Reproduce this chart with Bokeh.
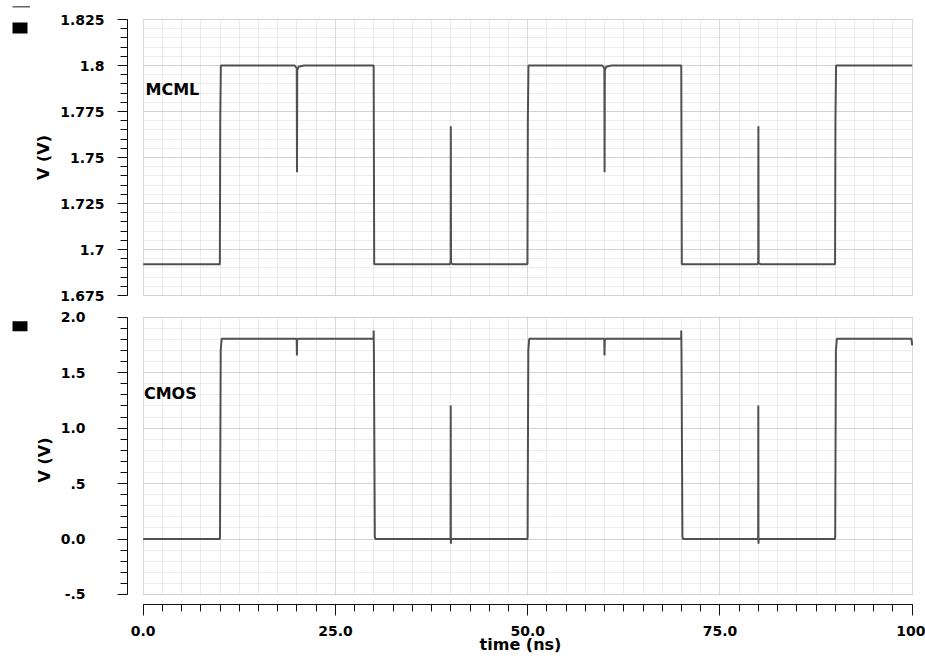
import numpy as np
from bokeh.plotting import figure
from bokeh.models import FixedTicker, Label, Range1d
from bokeh.layouts import column, row
from bokeh.embed import file_html
from bokeh.resources import INLINE

# ---------------- data ----------------
mcml_t = [0.0, 9.97, 10.02, 10.10, 19.70, 19.97, 20.00, 20.03, 20.20, 20.90,
          29.97, 30.04, 39.90, 39.98, 40.00, 40.03, 40.30,
          49.97, 50.02, 50.10, 59.70, 59.97, 60.00, 60.03, 60.20, 60.90,
          69.97, 70.04, 79.90, 79.98, 80.00, 80.03, 80.30,
          89.97, 90.02, 90.10, 100.0]
mcml_v = [1.692, 1.692, 1.770, 1.800, 1.800, 1.7985, 1.742, 1.7975, 1.7993, 1.800,
          1.800, 1.692, 1.692, 1.6935, 1.767, 1.6925, 1.692,
          1.692, 1.770, 1.800, 1.800, 1.7985, 1.742, 1.7975, 1.7993, 1.800,
          1.800, 1.692, 1.692, 1.6935, 1.767, 1.6925, 1.692,
          1.692, 1.770, 1.800, 1.800]

cmos_t = [0.0, 9.97, 9.99, 10.00, 10.08, 10.20, 19.96, 19.99, 20.02, 20.15,
          29.96, 29.97, 30.00, 30.12, 30.20, 39.97, 39.99, 40.01, 40.04,
          49.97, 49.99, 50.00, 50.08, 50.20, 59.96, 59.99, 60.02, 60.15,
          69.96, 69.97, 70.00, 70.12, 70.20, 79.97, 79.99, 80.01, 80.04,
          89.97, 89.99, 90.00, 90.08, 90.20, 99.90, 100.0]
cmos_v = [0.0, 0.0, 0.03, 0.25, 1.70, 1.805, 1.805, 1.655, 1.795, 1.805,
          1.805, 1.880, 1.70, 0.02, 0.0, 0.0, 1.204, -0.042, 0.0,
          0.0, 0.03, 0.25, 1.70, 1.805, 1.805, 1.655, 1.795, 1.805,
          1.805, 1.880, 1.70, 0.02, 0.0, 0.0, 1.204, -0.042, 0.0,
          0.0, 0.03, 0.25, 1.70, 1.805, 1.805, 1.745]

time_ticks = [0, 25, 50, 75, 100]
time_tick_labels = ["0.0", "25.0", "50.0", "75.0", "100"]
mcml_ticks = [1.675, 1.7, 1.725, 1.75, 1.775, 1.8, 1.825]
mcml_tick_labels = ["1.675", "1.7", "1.725", "1.75", "1.775", "1.8", "1.825"]
cmos_ticks = [-0.5, 0.0, 0.5, 1.0, 1.5, 2.0]
cmos_tick_labels = ["-.5", "0.0", ".5", "1.0", "1.5", "2.0"]

time_minor = np.round(np.arange(0, 100.001, 2.5), 3).tolist()
mcml_minor = np.round(np.arange(1.675, 1.82501, 0.005), 4).tolist()
cmos_minor = np.round(np.arange(-0.5, 2.0001, 0.1), 3).tolist()

# ---------------- style ----------------
FONT = "DejaVu Sans"
WAVE = "#505050"
GMAJ = "#b9b9b9"
GMIN = "#d8d8d8"
X_RANGE = (-2.04, 100.17)
SIDE_W = 30          # narrow strip on the far left holding the trace markers
TOP_H, BOT_H = 310, 361


def style(p, ylo, yhi, yticks, yminor, ylabels, label_standoff):
    p.outline_line_color = None
    p.background_fill_color = "white"
    p.border_fill_color = "white"
    # grids
    p.xgrid.ticker = FixedTicker(ticks=time_ticks, minor_ticks=time_minor)
    p.xgrid.bounds = (0, 100)
    p.xgrid.cross_bounds = (ylo, yhi)
    p.ygrid.ticker = FixedTicker(ticks=yticks, minor_ticks=yminor)
    p.ygrid.bounds = (ylo, yhi)
    p.ygrid.cross_bounds = (0, 100)
    for g in (p.xgrid, p.ygrid):
        g.grid_line_color = GMAJ
        g.grid_line_dash = "1 1"
        g.grid_line_width = 1
        g.minor_grid_line_color = GMIN
        g.minor_grid_line_dash = "1 1"
        g.minor_grid_line_width = 1
    p.xgrid.grid_line_color = "#c6c6c6"
    # y axis
    ax = p.yaxis[0]
    ax.ticker = FixedTicker(ticks=yticks, minor_ticks=yminor)
    ax.bounds = (ylo, yhi)
    ax.major_label_overrides = {v: s for v, s in zip(yticks, ylabels)}
    ax.axis_line_color = "#111111"
    ax.major_tick_line_color = "#111111"
    ax.minor_tick_line_color = "#111111"
    ax.major_tick_out = 10
    ax.major_tick_in = 0
    ax.minor_tick_out = 7
    ax.minor_tick_in = 0
    ax.major_label_text_font = FONT
    ax.major_label_text_font_style = "bold"
    ax.major_label_text_font_size = "14px"
    ax.major_label_text_color = "black"
    ax.major_label_standoff = label_standoff
    ax.axis_label = "V (V)"
    ax.axis_label_text_font = FONT
    ax.axis_label_text_font_style = "bold"
    ax.axis_label_text_font_size = "16px"
    ax.axis_label_text_color = "black"
    ax.axis_label_standoff = 4


def side_strip(h):
    s = figure(width=SIDE_W, height=h, output_backend="svg", toolbar_location=None,
               x_range=Range1d(0, SIDE_W), y_range=Range1d(h, 0),
               x_axis_location=None, y_axis_location=None,
               min_border_left=0, min_border_right=0,
               min_border_top=0, min_border_bottom=0)
    s.grid.visible = False
    s.outline_line_color = None
    s.background_fill_color = "white"
    s.border_fill_color = "white"
    return s


# ---------------- top panel (MCML) ----------------
top_pad = 2 / 1840.0
p1 = figure(width=925 - SIDE_W, height=TOP_H, output_backend="svg", toolbar_location=None,
            x_range=Range1d(*X_RANGE),
            y_range=Range1d(1.675 - top_pad, 1.825 + top_pad),
            x_axis_location=None,
            min_border_left=127 - SIDE_W, min_border_right=12,
            min_border_top=17, min_border_bottom=13)
style(p1, 1.675, 1.825, mcml_ticks, mcml_minor, mcml_tick_labels, 13)
p1.line(mcml_t, mcml_v, line_color=WAVE, line_width=2)
p1.add_layout(Label(x=0.3, y=1.7871, text="MCML", text_baseline="middle",
                    text_font=FONT, text_font_style="bold", text_font_size="16px",
                    text_color="black"))

s1 = side_strip(TOP_H)
s1.segment(x0=12, y0=6.3, x1=31, y1=6.3, line_color="#666666", line_width=1.5)
s1.quad(left=12, right=27, top=22, bottom=33, fill_color="black", line_color=None)

# ---------------- bottom panel (CMOS) ----------------
ppv = 110.9
p2 = figure(width=925 - SIDE_W, height=BOT_H, output_backend="svg", toolbar_location=None,
            x_range=p1.x_range,
            y_range=Range1d(2.0 - 287.3 / ppv, 2.0 + 1.7 / ppv),
            min_border_left=127 - SIDE_W, min_border_right=12,
            min_border_top=5, min_border_bottom=67)
style(p2, -0.5, 2.0, cmos_ticks, cmos_minor, cmos_tick_labels, 32)
p2.line(cmos_t, cmos_v, line_color=WAVE, line_width=2)
p2.add_layout(Label(x=0.1, y=1.309, text="CMOS", text_baseline="middle",
                    text_font=FONT, text_font_style="bold", text_font_size="16px",
                    text_color="black"))

s2 = side_strip(BOT_H)
s2.quad(left=12, right=27, top=10.7, bottom=20.7, fill_color="black", line_color=None)

xa = p2.xaxis[0]
xa.ticker = FixedTicker(ticks=time_ticks, minor_ticks=time_minor)
xa.bounds = (0, 100)
xa.major_label_overrides = {t: s for t, s in zip(time_ticks, time_tick_labels)}
xa.axis_line_color = "#111111"
xa.major_tick_line_color = "#111111"
xa.minor_tick_line_color = "#111111"
xa.major_tick_out = 11
xa.major_tick_in = 0
xa.minor_tick_out = 7
xa.minor_tick_in = 0
xa.major_label_text_font = FONT
xa.major_label_text_font_style = "bold"
xa.major_label_text_font_size = "14px"
xa.major_label_text_color = "black"
xa.major_label_standoff = 10
xa.axis_label = "time (ns)"
xa.axis_label_text_font = FONT
xa.axis_label_text_font_style = "bold"
xa.axis_label_text_font_size = "16px"
xa.axis_label_text_color = "black"
xa.axis_label_standoff = -4

layout = row(column(s1, s2, spacing=0), column(p1, p2, spacing=0), spacing=0)
open("out.html", "w").write(file_html(layout, INLINE))
